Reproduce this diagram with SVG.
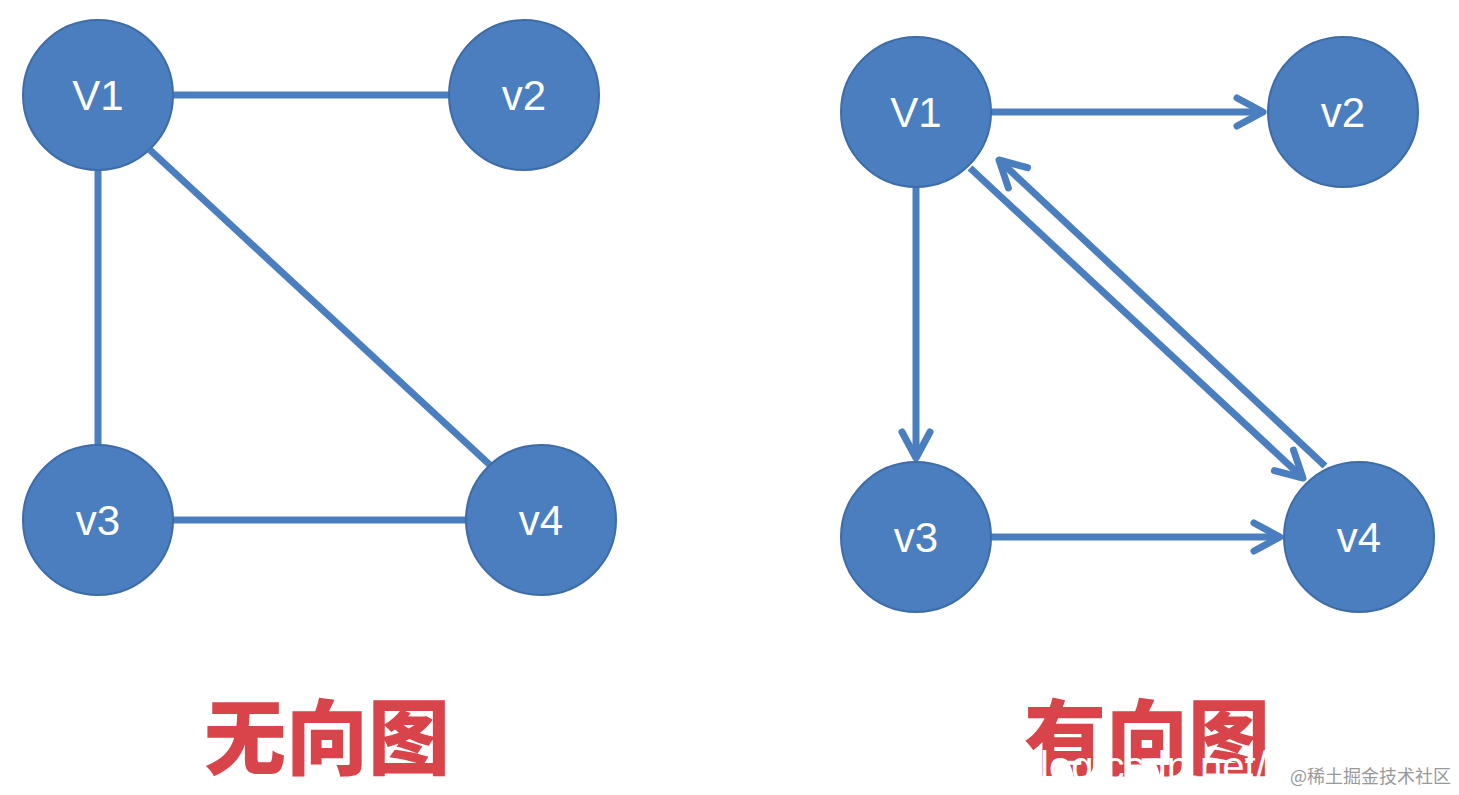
<svg xmlns="http://www.w3.org/2000/svg" width="1459" height="795" viewBox="0 0 1459 795">
<style>
.n{fill:#4a7ebf;stroke:#3d6ca8;stroke-width:2}
.t{fill:#fff;font-family:"Liberation Sans",Arial,sans-serif;font-size:42px;text-anchor:middle}
.e{stroke:#4a7ebf;stroke-width:7;fill:none}
.a{marker-end:url(#arr)}
.h{fill:#d9434a;font-family:"Noto Sans CJK SC",sans-serif;font-weight:900;font-size:82px;text-anchor:middle}
</style>
<defs>
<marker id="arr" markerUnits="userSpaceOnUse" markerWidth="40" markerHeight="40" viewBox="-30 -20 40 40" refX="0" refY="0" orient="auto">
<path d="M-26,-14 L0,0 L-26,14" fill="none" stroke="#4a7ebf" stroke-width="7" stroke-linecap="round" stroke-linejoin="round"/>
</marker>
</defs>
<rect width="1459" height="795" fill="#fff"/>
<g id="connectors">
<line class="e" x1="173" y1="95" x2="449" y2="95"/>
<line class="e" x1="98" y1="170" x2="98" y2="445"/>
<line class="e" x1="150" y1="150" x2="490" y2="465"/>
<line class="e" x1="173" y1="520" x2="466" y2="520"/>
<line class="e a" x1="991" y1="112" x2="1263" y2="112"/>
<line class="e a" x1="916" y1="187" x2="916" y2="458"/>
<line class="e a" x1="991" y1="537" x2="1280" y2="537"/>
<line class="e a" x1="970" y1="168" x2="1303" y2="478"/>
<line class="e a" x1="1325" y1="466" x2="999" y2="160"/>
</g>
<g id="L-v1"><circle class="n" cx="98" cy="95" r="75"/><text class="t" x="98" y="110">V1</text></g>
<g id="L-v2"><circle class="n" cx="524" cy="95" r="75"/><text class="t" x="524" y="110">v2</text></g>
<g id="L-v3"><circle class="n" cx="98" cy="520" r="75"/><text class="t" x="98" y="535">v3</text></g>
<g id="L-v4"><circle class="n" cx="541" cy="520" r="75"/><text class="t" x="541" y="535">v4</text></g>
<g id="R-v1"><circle class="n" cx="916" cy="112" r="75"/><text class="t" x="916" y="127">V1</text></g>
<g id="R-v2"><circle class="n" cx="1343" cy="112" r="75"/><text class="t" x="1343" y="127">v2</text></g>
<g id="R-v3"><circle class="n" cx="916" cy="537" r="75"/><text class="t" x="916" y="552">v3</text></g>
<g id="R-v4"><circle class="n" cx="1359" cy="537" r="75"/><text class="t" x="1359" y="552">v4</text></g>
<text class="h" x="327" y="768">无向图</text>
<text class="h" x="1147" y="768">有向图</text>
<text x="1040" y="780" fill="#fff" font-family="'Liberation Sans',Arial,sans-serif" font-size="40">log.csdn.net/</text>
<text x="1290" y="783" fill="#999" font-family="'Noto Sans CJK SC',sans-serif" font-size="18">@稀土掘金技术社区</text>
</svg>
